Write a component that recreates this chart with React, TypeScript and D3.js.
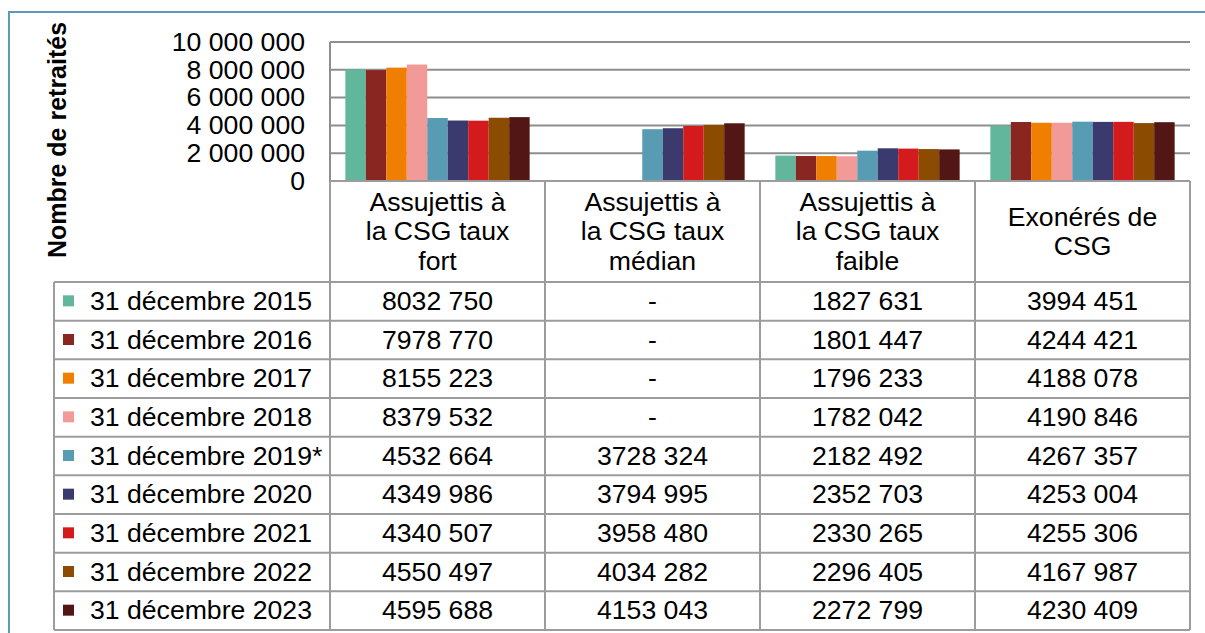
import React from "react";
import * as d3 from "d3";

const categories: string[][] = [
  ["Assujettis à", "la CSG taux", "fort"],
  ["Assujettis à", "la CSG taux", "médian"],
  ["Assujettis à", "la CSG taux", "faible"],
  ["Exonérés de", "CSG"],
];

const seriesNames = [
  "31 décembre 2015",
  "31 décembre 2016",
  "31 décembre 2017",
  "31 décembre 2018",
  "31 décembre 2019*",
  "31 décembre 2020",
  "31 décembre 2021",
  "31 décembre 2022",
  "31 décembre 2023",
];

const seriesColors = [
  "#61b69c",
  "#8a2622",
  "#f07e00",
  "#f29a98",
  "#589cb4",
  "#3a3a6e",
  "#d31b1d",
  "#8b4b00",
  "#521614",
];

const fort = [8032750, 7978770, 8155223, 8379532, 4532664, 4349986, 4340507, 4550497, 4595688];
const median = [null, null, null, null, 3728324, 3794995, 3958480, 4034282, 4153043];
const faible = [1827631, 1801447, 1796233, 1782042, 2182492, 2352703, 2330265, 2296405, 2272799];
const exoneres = [3994451, 4244421, 4188078, 4190846, 4267357, 4253004, 4255306, 4167987, 4230409];

const yTicks = [0, 2000000, 4000000, 6000000, 8000000, 10000000];

const FONT = "'Liberation Sans', Arial, sans-serif";
const FS = 25;
const SX = 1.065;

function fmtValue(v: number | null): string {
  if (v == null) return "-";
  const hi = Math.floor(v / 1000);
  const lo = String(v % 1000).padStart(3, "0");
  return `${hi} ${lo}`;
}

const fmtTick = (v: number) => d3.format(",")(v).replace(/,/g, " ");

function T(props: { x: number; y: number; anchor?: string; children: React.ReactNode }) {
  return (
    <text
      transform={`translate(${props.x},${props.y}) scale(${SX},1)`}
      dy="0.35em"
      textAnchor={props.anchor || "start"}
      fontSize={FS}
      fill="#000"
    >
      {props.children}
    </text>
  );
}

export default function App() {
  const W = 1205;
  const H = 633;
  const plotLeft = 330;
  const plotRight = 1190;
  const plotTop = 42;
  const plotBottom = 181;
  const headerBottom = 282;
  const tableBottom = 630;
  const legendLeft = 54;

  const columns = [fort, median, faible, exoneres];
  const catIdx = categories.map((_, i) => String(i));

  const x = d3.scaleBand<string>().domain(catIdx).range([plotLeft, plotRight]).padding(0);
  const xs = d3
    .scaleBand<string>()
    .domain(seriesNames)
    .range([0, x.bandwidth()])
    .paddingInner(0)
    .paddingOuter(0.75);
  const y = d3.scaleLinear().domain([0, 10000000]).range([plotBottom, plotTop]);
  const rows = d3.scaleBand<string>().domain(seriesNames).range([headerBottom, tableBottom]);

  const gridColor = "#8e8e8e";
  const tableColor = "#9c9c9c";
  const headerMid = (plotBottom + headerBottom) / 2;
  const lh = 29.5;

  return (
    <svg
      width={W}
      height={H}
      style={{ position: "absolute", left: 0, top: 0, background: "#fff" }}
      fontFamily={FONT}
    >
      <rect x={0} y={0} width={W} height={H} fill="#fff" />
      {/* outer frame */}
      <rect x={9} y={12} width={W + 20} height={H + 20} fill="none" stroke="#5a9cb8" strokeWidth={2} />

      {/* gridlines */}
      {yTicks.map((t) => (
        <line
          key={"g" + t}
          x1={plotLeft}
          x2={plotRight}
          y1={y(t)}
          y2={y(t)}
          stroke={gridColor}
          strokeWidth={2}
        />
      ))}
      <line x1={plotLeft} x2={plotLeft} y1={plotTop} y2={plotBottom} stroke={gridColor} strokeWidth={2} />

      {/* tick labels */}
      {yTicks.map((t) => (
        <T key={"t" + t} x={305} y={y(t)} anchor="end">
          {fmtTick(t)}
        </T>
      ))}

      {/* y title */}
      <text
        transform={`translate(66,140) rotate(-90)`}
        textAnchor="middle"
        fontSize={FS}
        fontWeight="bold"
        fill="#000"
      >
        Nombre de retraités
      </text>

      {/* bars */}
      {columns.map((col, ci) =>
        col.map((v, si) =>
          v == null ? null : (
            <rect
              key={`b${ci}-${si}`}
              x={(x(String(ci)) as number) + (xs(seriesNames[si]) as number)}
              y={y(v)}
              width={xs.bandwidth()}
              height={plotBottom - y(v)}
              fill={seriesColors[si]}
            />
          )
        )
      )}

      {/* table lines */}
      <line x1={plotLeft} x2={plotRight} y1={plotBottom} y2={plotBottom} stroke={tableColor} strokeWidth={2} />
      {[...catIdx.map((c) => x(c) as number), plotRight].map((xx, i) => (
        <line key={"v" + i} x1={xx} x2={xx} y1={plotBottom} y2={tableBottom} stroke={tableColor} strokeWidth={2} />
      ))}
      <line x1={legendLeft} x2={legendLeft} y1={headerBottom} y2={tableBottom} stroke={tableColor} strokeWidth={2} />
      {[...seriesNames.map((s) => rows(s) as number), tableBottom].map((yy, i) => (
        <line key={"h" + i} x1={legendLeft} x2={plotRight} y1={yy} y2={yy} stroke={tableColor} strokeWidth={2} />
      ))}

      {/* header text */}
      {categories.map((lines, ci) =>
        lines.map((ln, li) => (
          <T
            key={`hd${ci}-${li}`}
            x={(x(String(ci)) as number) + x.bandwidth() / 2}
            y={headerMid + (li - (lines.length - 1) / 2) * lh}
            anchor="middle"
          >
            {ln}
          </T>
        ))
      )}

      {/* legend rows */}
      {seriesNames.map((s, si) => {
        const cy = (rows(s) as number) + rows.bandwidth() / 2;
        return (
          <g key={"r" + si}>
            <rect x={63} y={cy - 6} width={11} height={11} fill={seriesColors[si]} />
            <T x={90} y={cy}>
              {s}
            </T>
            {columns.map((col, ci) => (
              <T key={`c${ci}`} x={(x(String(ci)) as number) + x.bandwidth() / 2} y={cy} anchor="middle">
                {fmtValue(col[si])}
              </T>
            ))}
          </g>
        );
      })}
    </svg>
  );
}
